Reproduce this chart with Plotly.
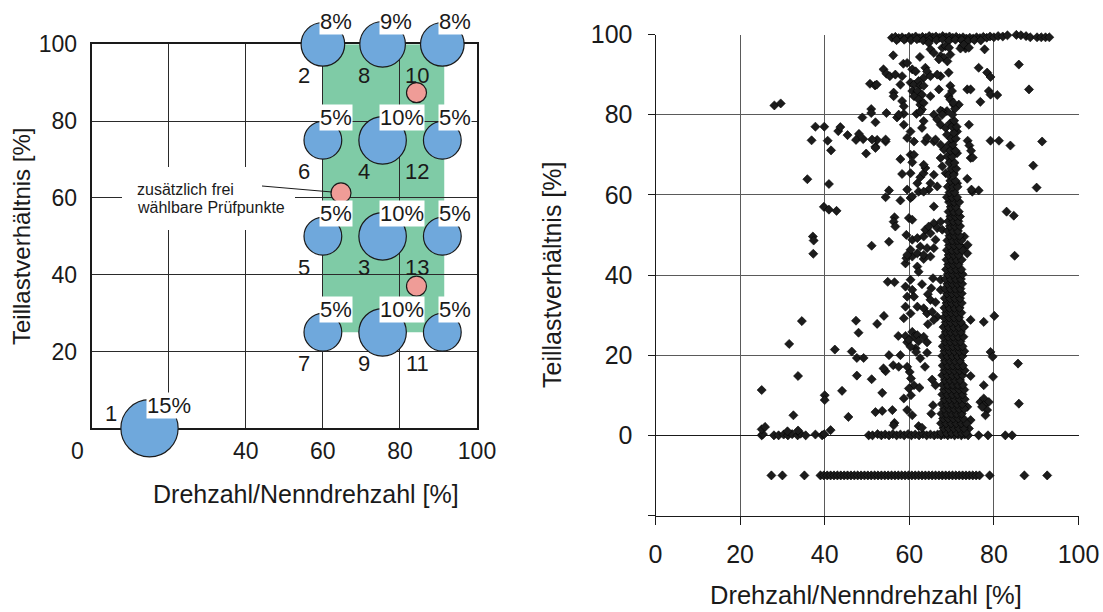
import plotly.graph_objects as go

W, H = 1103, 612
FONT = "Liberation Sans, Arial, Helvetica, sans-serif"
INK = "#1a1a1a"
BLUE = "#6fa8dc"
GREEN = "#7fcba6"
PINK = "#ef9c97"

# ---------------- left chart: test modes ----------------
mode_no = ["1", "2", "8", "10", "6", "4", "12", "5", "3", "13", "7", "9", "11"]
mode_speed = [15, 60, 75.5, 91, 60, 75.5, 91, 60, 75.5, 91, 60, 75.5, 91]
mode_load = [0, 100, 100, 100, 75, 75, 75, 50, 50, 50, 25, 25, 25]
mode_share = [15, 8, 9, 8, 5, 10, 5, 5, 10, 5, 5, 10, 5]
extra_speed = [84.3, 64.7, 84.3]
extra_load = [87.4, 61.3, 37.0]
control_area_speed = [60, 91.5]
control_area_load = [25, 100]
left_ticks = [0, 20, 40, 60, 80, 100]
left_xtick_text = ["", "", "40", "60", "80", "100"]
left_ytick_text = ["", "20", "40", "60", "80", "100"]
note_lines = ["zusätzlich frei", "wählbare Prüfpunkte"]

# ---------------- right chart: measured operating points ----------------
right_xticks = [0, 20, 40, 60, 80, 100]
right_yticks = [-20, 0, 20, 40, 60, 80, 100]
right_ytick_text = ["", "0", "20", "40", "60", "80", "100"]

full_load_pts = [
    (55.9, 99.2), (56.7, 99.4), (57.5, 99.1), (58.3, 99.3), (59.1, 99.0), (59.9, 99.4), (60.7, 99.2),
    (61.5, 99.5), (62.3, 99.1), (63.1, 99.4), (63.9, 99.2), (64.7, 99.6), (65.5, 99.3), (66.3, 99.5),
    (67.1, 99.2), (67.9, 99.6), (68.7, 99.3), (69.5, 99.5), (70.3, 99.2), (71.1, 99.4), (71.9, 99.1),
    (72.7, 99.3), (73.5, 99.0), (74.3, 99.2), (75.1, 99.0), (75.9, 99.3), (76.7, 99.1), (77.5, 99.4),
    (78.3, 99.2), (79.1, 99.5), (80.0, 99.3), (60.5, 100.2), (62.0, 100.3), (63.5, 100.2), (65.0, 100.4),
    (66.5, 100.3), (68.0, 100.2), (69.5, 100.4), (71.0, 100.2), (72.5, 100.3), (81.0, 99.6), (82.1, 99.5),
    (83.2, 99.8), (84.3, 100.1), (85.3, 99.9), (86.4, 99.8), (87.6, 99.6), (88.6, 99.3), (90.2, 99.3),
    (91.2, 99.3), (92.2, 99.3), (93.1, 99.3), (57.0, 98.6), (58.8, 98.7), (60.4, 98.6), (61.8, 98.8),
    (63.3, 98.5), (64.8, 98.7), (66.4, 98.6), (67.9, 98.8), (69.4, 98.5), (70.9, 98.7), (72.4, 98.6),
    (73.9, 98.4), (75.4, 98.6), (76.9, 98.5),
]

zero_load_pts = [
    (25.1, 0.0), (25.4, 0.3), (28.0, 0.0), (29.1, 0.0), (30.3, 0.2), (31.3, 0.0), (32.3, 0.3), (33.6, 0.0),
    (34.3, 0.4), (35.5, 0.0), (37.8, 0.2), (39.4, 0.0), (39.9, 0.3), (50.4, 0.0), (51.3, 0.0), (52.5, 0.3),
    (53.4, 0.0), (54.3, 0.2), (55.2, 0.0), (56.1, 0.3), (57.0, 0.0), (57.9, 0.2), (58.8, 0.0), (59.7, 0.3),
    (60.5, 0.0), (61.4, 0.2), (62.3, 0.0), (63.2, 0.3), (64.1, 0.0), (65.0, 0.2), (65.9, 0.0), (66.7, 0.2),
    (67.5, 0.0), (68.3, 0.2), (69.1, 0.0), (69.9, 0.2), (70.7, 0.0), (71.5, 0.2), (72.3, 0.0), (73.1, 0.2),
    (73.9, 0.0), (76.4, 0.0), (78.6, 0.0), (82.7, 0.0), (84.3, 0.0),
]

motoring_pts = [
    (27.4, -10), (30.0, -10), (35.2, -10), (39.0, -10), (39.8, -10), (40.6, -10), (41.4, -10), (42.2, -10),
    (43.0, -10), (43.8, -10), (44.6, -10), (45.4, -10), (46.2, -10), (47.0, -10), (47.8, -10), (48.6, -10),
    (49.4, -10), (50.2, -10), (51.0, -10), (51.8, -10), (52.6, -10), (53.4, -10), (54.2, -10), (55.0, -10),
    (55.8, -10), (56.6, -10), (57.4, -10), (58.2, -10), (59.0, -10), (59.8, -10), (60.6, -10), (61.4, -10),
    (62.2, -10), (63.0, -10), (63.8, -10), (64.6, -10), (65.4, -10), (66.2, -10), (67.0, -10), (67.8, -10),
    (68.6, -10), (69.4, -10), (70.2, -10), (71.0, -10), (71.8, -10), (72.6, -10), (73.4, -10), (74.2, -10),
    (75.0, -10), (75.8, -10), (76.6, -10), (79.0, -10), (87.2, -10), (92.6, -10),
]

# dense column of operating points: (load, [speeds])
column_rows = [
    (0.6, [67.6, 68.8, 70.0, 71.2, 72.4, 73.4]), (1.8, [68.1, 69.3, 70.5, 71.7, 72.9]),
    (3.0, [67.5, 68.7, 69.9, 71.1, 72.3, 73.5]), (4.2, [68.0, 69.2, 70.4, 71.6, 72.8]),
    (5.4, [67.6, 68.8, 70.0, 71.2, 72.4]), (6.6, [68.2, 69.4, 70.6, 71.8, 73.0]),
    (7.8, [67.7, 68.9, 70.1, 71.3, 72.5]), (9.0, [68.3, 69.5, 70.7, 71.9, 73.1]),
    (10.2, [67.8, 69.0, 70.2, 71.4, 72.6]), (11.4, [68.2, 69.4, 70.6, 71.8, 73.0]),
    (12.6, [67.9, 69.1, 70.3, 71.5, 72.7]), (13.8, [68.4, 69.6, 70.8, 72.0]),
    (15.0, [67.8, 69.0, 70.2, 71.4, 72.6]), (16.2, [68.3, 69.5, 70.7, 71.9, 73.1]),
    (17.4, [67.9, 69.1, 70.3, 71.5, 72.7]), (18.6, [68.4, 69.6, 70.8, 72.0]),
    (19.8, [67.8, 69.0, 70.2, 71.4, 72.6]), (21.0, [68.3, 69.5, 70.7, 71.9, 73.0]),
    (22.2, [67.9, 69.1, 70.3, 71.5, 72.6]), (23.4, [68.5, 69.7, 70.9, 72.1]),
    (24.6, [68.0, 69.2, 70.4, 71.6, 72.8]), (25.8, [68.6, 69.8, 71.0, 72.2]),
    (27.0, [68.1, 69.3, 70.5, 71.7, 72.9]), (28.2, [68.6, 69.8, 71.0, 72.2]),
    (29.4, [68.2, 69.4, 70.6, 71.8]), (30.6, [68.7, 69.9, 71.1, 72.3]),
    (31.8, [68.3, 69.5, 70.7, 71.9]), (33.0, [68.8, 70.0, 71.2, 72.4]),
    (34.2, [68.4, 69.6, 70.8, 72.0]), (35.4, [68.9, 70.1, 71.3, 72.4]),
    (36.6, [68.5, 69.7, 70.9, 72.1]), (37.8, [69.0, 70.2, 71.4, 72.5]),
    (39.0, [68.6, 69.8, 71.0, 72.2]), (40.2, [69.1, 70.3, 71.5, 72.6]),
    (41.4, [68.7, 69.9, 71.1, 72.3]), (42.6, [69.2, 70.4, 71.6]),
    (43.8, [68.8, 70.0, 71.2, 72.4]), (45.0, [69.3, 70.5, 71.7]),
    (46.2, [68.9, 70.1, 71.3, 72.5]), (47.4, [69.4, 70.6, 71.8]),
    (48.6, [69.0, 70.2, 71.4, 72.3]), (49.8, [69.5, 70.7, 71.9]),
    (51.0, [69.1, 70.3, 71.5]), (52.2, [69.6, 70.8, 72.0]),
    (53.4, [69.2, 70.4, 71.6]), (54.6, [69.7, 70.9, 72.0]),
    (55.8, [69.3, 70.5, 71.7]), (57.0, [69.8, 71.0]),
    (58.2, [69.4, 70.6, 71.8]), (59.4, [68.9, 70.1, 71.3]),
    (60.6, [69.5, 70.7]), (62.0, [69.1, 70.3, 71.4]),
    (63.5, [69.7, 70.9]), (65.0, [69.3, 70.5]),
    (66.5, [69.9, 71.1]), (68.0, [69.5, 70.7]),
    (69.5, [70.1]), (71.0, [69.7, 70.9]),
    (72.5, [70.3]), (74.0, [69.9, 71.0]),
    (75.5, [70.5]), (77.0, [70.1, 71.2]),
    (78.5, [70.6]), (80.0, [70.2]),
    (81.5, [70.8]), (83.0, [70.4]),
]

scattered_pts = [
    (28.1, 82.3), (29.6, 82.8), (37.8, 77.0), (39.9, 77.0), (36.9, 73.6), (40.7, 73.5), (41.5, 71.1),
    (43.2, 75.9), (43.7, 76.9), (45.4, 74.9), (48.1, 75.2), (47.4, 73.7), (49.1, 73.9), (49.8, 70.3),
    (48.9, 79.3), (51.0, 81.4), (51.0, 80.4), (52.0, 78.1), (52.4, 73.7), (52.0, 72.0), (50.7, 87.7),
    (51.9, 87.3), (35.9, 63.9), (41.0, 62.7), (39.8, 57.0), (41.0, 56.3), (42.8, 56.0), (37.2, 49.6),
    (37.4, 48.6), (37.3, 45.3), (51.1, 47.3),
    (34.6, 28.5), (31.6, 22.8), (33.7, 14.8), (25.1, 11.3), (32.6, 5.0), (25.1, 1.5), (25.9, 2.1),
    (31.2, 1.0), (33.7, 1.2), (40.0, 10.0), (40.0, 8.8), (41.4, 1.3), (42.4, 21.4), (44.1, 11.1),
    (45.6, 4.6), (46.4, 20.9), (47.6, 19.3), (49.2, 19.3), (47.4, 28.6), (48.0, 25.6), (47.6, 14.9),
    (51.1, 14.0), (52.4, 27.8), (52.0, 5.8),
    (54.4, 16.0), (60.1, 15.8), (53.6, 10.6), (53.6, 6.1), (56.0, 6.3), (59.5, 6.3), (60.7, 5.0),
    (56.5, 3.1), (56.3, 2.5), (62.2, 2.3), (63.0, 1.9), (60.4, 14.2), (61.1, 12.5), (59.9, 11.7),
    (58.7, 9.2), (60.4, 10.0), (62.4, 11.9), (65.4, 13.9), (66.2, 12.5), (65.6, 7.5), (65.2, 5.4),
    (74.5, 14.8), (73.7, 7.1), (74.5, 3.8), (74.1, 1.7), (77.6, 12.5), (79.8, 14.6), (76.8, 8.3),
    (77.6, 9.2), (78.8, 8.3), (77.6, 7.5), (78.4, 6.3), (78.0, 5.0), (77.2, 7.1), (85.9, 7.9),
    (54.9, 38.3), (56.5, 38.2), (59.1, 42.9), (59.3, 44.2), (60.7, 44.6), (63.4, 44.0), (59.1, 37.1),
    (59.5, 34.6), (60.3, 38.8), (60.7, 36.3), (61.1, 34.6), (61.9, 42.1), (62.2, 40.8), (63.0, 37.7),
    (65.6, 39.2), (65.2, 36.7), (67.4, 38.8), (67.4, 36.3), (64.4, 35.2), (65.0, 33.8), (66.2, 33.2),
    (54.0, 29.8), (58.7, 29.2), (59.1, 32.1), (60.3, 30.4), (61.9, 32.1), (63.4, 31.7), (64.2, 30.4),
    (65.4, 30.8), (66.6, 29.6), (64.4, 27.7), (65.8, 28.8), (57.4, 24.8), (59.1, 24.8), (59.5, 23.2),
    (60.7, 25.8), (61.1, 24.6), (59.9, 23.8), (61.9, 25.0), (62.2, 23.5), (63.4, 24.6), (64.2, 23.2),
    (61.5, 21.7), (60.3, 22.1), (55.2, 20.0), (57.9, 20.0), (61.6, 20.8), (62.6, 19.2), (64.2, 20.6),
    (53.9, 16.7), (56.2, 17.5), (57.5, 17.1), (59.5, 17.1), (63.7, 17.1), (74.5, 28.8), (77.6, 28.3),
    (80.1, 29.8), (72.9, 27.1), (79.2, 20.8), (79.7, 19.6), (85.7, 17.9), (84.9, 44.8),
    (57.9, 68.9), (60.3, 70.0), (61.1, 70.0), (60.7, 68.1), (58.3, 65.2), (60.3, 65.4), (61.9, 62.9),
    (62.6, 64.4), (63.4, 65.4), (63.8, 66.7), (63.4, 67.5), (65.8, 65.0), (65.0, 62.9), (66.6, 62.1),
    (64.6, 61.3), (62.2, 60.8), (63.4, 60.8), (55.2, 61.1), (54.4, 59.4), (57.9, 58.6), (60.3, 59.2),
    (60.7, 59.6), (59.5, 61.3), (74.5, 69.2), (73.7, 64.0), (74.9, 60.8), (76.4, 61.1), (52.0, 71.7),
    (54.4, 73.3), (51.2, 73.8), (61.1, 73.3), (63.8, 73.3), (65.8, 73.3), (79.2, 73.5), (81.2, 73.5),
    (83.9, 72.3), (91.4, 73.3), (89.3, 67.3), (90.1, 61.8), (83.0, 55.8), (84.7, 54.8), (65.8, 57.1),
    (65.8, 52.9), (67.4, 53.3), (66.6, 51.7), (67.8, 51.3), (56.5, 54.4), (56.3, 53.3), (56.7, 52.1),
    (59.9, 54.2), (60.7, 53.8), (55.2, 48.3), (59.3, 50.0), (60.7, 48.8), (61.9, 49.2), (63.4, 49.6),
    (63.8, 51.3), (64.6, 52.1), (65.0, 50.4), (66.2, 48.8), (62.6, 47.1), (64.2, 46.7), (65.8, 46.7),
    (60.3, 46.3), (61.9, 45.4), (59.5, 45.0), (63.4, 45.0), (65.0, 44.6), (73.0, 49.6), (72.6, 46.7),
    (73.8, 47.5), (73.7, 45.4), (71.3, 62.9), (70.5, 65.4), (69.7, 68.3), (71.3, 70.4), (70.1, 71.7),
    (69.3, 72.5), (67.4, 69.2), (68.2, 71.3), (67.4, 72.5), (69.0, 69.6), (67.8, 67.1), (68.6, 65.4),
    (73.8, 73.5), (74.2, 72.3), (74.6, 71.0),
    (56.2, 94.8), (58.6, 92.7), (59.5, 92.9), (62.5, 94.4), (64.6, 97.9), (65.0, 96.3), (65.8, 95.4),
    (67.8, 96.7), (68.6, 97.1), (67.4, 94.6), (68.2, 94.2), (69.0, 93.3), (69.7, 95.0), (67.0, 93.8),
    (72.5, 97.1), (73.3, 96.5), (72.1, 96.5), (77.8, 96.3), (76.4, 91.7), (78.4, 90.5), (79.2, 89.4),
    (85.9, 92.5), (88.3, 86.3), (53.9, 91.3), (54.6, 90.2), (55.4, 89.6), (56.7, 90.0), (58.3, 89.6),
    (57.9, 87.5), (52.3, 87.5), (56.3, 85.5), (56.3, 84.6), (58.3, 83.4), (58.7, 82.1), (54.6, 80.4),
    (57.1, 79.3), (60.7, 91.3), (61.5, 90.8), (63.8, 91.7), (64.2, 90.8), (63.4, 89.2), (65.0, 89.6),
    (67.4, 89.6), (69.3, 90.5), (66.6, 90.0), (60.3, 88.0), (61.1, 87.5), (62.2, 88.4), (62.6, 87.2),
    (63.4, 87.2), (60.7, 85.9), (61.9, 85.9), (63.0, 85.0), (61.1, 84.6), (62.2, 83.8), (67.0, 86.3),
    (69.7, 87.2), (70.1, 85.9), (69.3, 84.6), (69.7, 83.8), (70.5, 82.5), (71.7, 82.5), (68.9, 80.9),
    (67.8, 80.8), (65.0, 84.6), (62.6, 82.5), (63.4, 82.9), (63.0, 81.3), (73.7, 86.3), (74.5, 86.3),
    (78.8, 85.9), (79.2, 85.0), (80.8, 84.9), (76.8, 83.2), (58.7, 80.2), (57.5, 80.0), (61.7, 80.2),
    (62.6, 80.7), (65.8, 80.0), (67.4, 81.0), (67.8, 80.0), (74.1, 77.5), (58.7, 77.5), (60.3, 75.8),
    (59.5, 74.2), (63.4, 78.4), (63.0, 76.7), (66.6, 78.8), (67.4, 77.5), (68.6, 76.7), (69.7, 77.9),
    (68.9, 75.0), (70.1, 73.8), (71.3, 75.8), (64.2, 74.2), (66.2, 73.8), (54.4, 73.8), (75.0, 69.3),
    (74.7, 61.3), (69.4, 96.7), (72.9, 97.5), (74.1, 96.7),
]


def fx(p):
    return p / W


def fy(p):
    return 1 - p / H


def paper_text(px, py, text, size, angle=0, anchor="center"):
    fig.add_annotation(x=fx(px), y=fy(py), xref="paper", yref="paper", text=text,
                       showarrow=False, xanchor=anchor, yanchor="middle", textangle=angle,
                       font=dict(family=FONT, size=size, color=INK))


fig = go.Figure()

# ---------- left chart ----------
fig.add_shape(type="rect", xref="x", yref="y",
              x0=control_area_speed[0], x1=control_area_speed[1],
              y0=control_area_load[0], y1=control_area_load[1],
              fillcolor=GREEN, line_width=0, layer="below")

bubble_sizes = [28 + 1.95 * s for s in mode_share]
fig.add_trace(go.Scatter(
    x=mode_speed, y=mode_load, mode="markers", xaxis="x", yaxis="y",
    marker=dict(size=bubble_sizes, color=BLUE, opacity=1, line=dict(color=INK, width=1.2)),
    cliponaxis=False, hoverinfo="skip", showlegend=False))
fig.add_trace(go.Scatter(
    x=extra_speed, y=extra_load, mode="markers", xaxis="x", yaxis="y",
    marker=dict(size=20, color=PINK, opacity=1, line=dict(color=INK, width=1.2)),
    cliponaxis=False, hoverinfo="skip", showlegend=False))

for sx, ly, sh, no in zip(mode_speed, mode_load, mode_share, mode_no):
    fig.add_annotation(x=sx, y=ly, xref="x", yref="y", text=f"{sh}%", showarrow=False,
                       xanchor="left", yanchor="bottom", xshift=-4, yshift=9,
                       bgcolor="white", borderpad=0,
                       font=dict(family=FONT, size=22, color=INK))
    if no == "1":
        fig.add_annotation(x=sx, y=ly, xref="x", yref="y", text=no, showarrow=False,
                           xanchor="right", yanchor="middle", xshift=-31, yshift=15,
                           font=dict(family=FONT, size=22, color=INK))
    else:
        fig.add_annotation(x=sx, y=ly, xref="x", yref="y", text=no, showarrow=False,
                           xanchor="right", yanchor="middle", xshift=-11, yshift=-31,
                           font=dict(family=FONT, size=22, color=INK))

# note box with leader line
fig.add_shape(type="rect", xref="paper", yref="paper", x0=fx(122), x1=fx(295), y0=fy(230), y1=fy(167),
              fillcolor="white", line_width=0, layer="above")
fig.add_shape(type="line", xref="paper", yref="paper", x0=fx(262), y0=fy(186), x1=fx(332), y1=fy(192),
              line=dict(color=INK, width=1), layer="above")
for i, line in enumerate(note_lines):
    paper_text(135, 189 + 18 * i, line, 16, anchor="left")

# ---------- right chart ----------
all_pts = full_load_pts + zero_load_pts + motoring_pts + scattered_pts
for ly, xs in column_rows:
    all_pts += [(x, ly) for x in xs]
fig.add_trace(go.Scatter(
    x=[p[0] for p in all_pts], y=[p[1] for p in all_pts], mode="markers", xaxis="x2", yaxis="y2",
    marker=dict(symbol="diamond", size=7, color="#1c1c1c", line=dict(color="#000000", width=0.6)),
    cliponaxis=False, hoverinfo="skip", showlegend=False))

# ---------- axis titles and corner label ----------
paper_text(306, 494, "Drehzahl/Nenndrehzahl [%]", 25)
paper_text(22, 237, "Teillastverhältnis [%]", 24, angle=-90)
paper_text(552, 275, "Teillastverhältnis [%]", 25, angle=-90)
paper_text(866, 595, "Drehzahl/Nenndrehzahl [%]", 25.5)
paper_text(77, 451, "0", 23)

left_axis = dict(range=[0, 100], tickmode="array", tickvals=left_ticks, showgrid=True,
                 gridcolor="#2a2a2a", gridwidth=1, zeroline=False, showline=True, mirror=True,
                 linecolor=INK, linewidth=2, ticks="", layer="below traces", fixedrange=True,
                 automargin=False, tickfont=dict(family=FONT, size=23, color=INK))
right_axis = dict(tickmode="array", showgrid=True, gridcolor="#5a5a5a", gridwidth=1,
                  showline=True, linecolor=INK, linewidth=1, ticks="outside", tickcolor=INK,
                  tickwidth=1, fixedrange=True, automargin=False,
                  tickfont=dict(family=FONT, size=25, color=INK))

fig.update_layout(
    width=W, height=H, margin=dict(l=0, r=0, t=0, b=0, autoexpand=False),
    paper_bgcolor="white", plot_bgcolor="white", showlegend=False,
    font=dict(family=FONT, color=INK),
    xaxis=dict(left_axis, domain=[fx(91.7), fx(477)], anchor="y", ticktext=left_xtick_text,
               ticklabelstandoff=1),
    yaxis=dict(left_axis, domain=[fy(428.3), fy(44.3)], anchor="x", ticktext=left_ytick_text,
               ticklabelstandoff=8),
    xaxis2=dict(right_axis, domain=[fx(655.5), fx(1078.5)], anchor="y2", range=[0, 100],
                tickvals=right_xticks, ticklen=8, zeroline=False, ticklabelstandoff=8),
    yaxis2=dict(right_axis, domain=[fy(515.5), fy(34.5)], anchor="x2", range=[-20, 100],
                tickvals=right_yticks, ticktext=right_ytick_text, ticklen=7,
                zeroline=True, zerolinecolor=INK, zerolinewidth=1, ticklabelstandoff=10),
)

fig.write_html("out.html")
